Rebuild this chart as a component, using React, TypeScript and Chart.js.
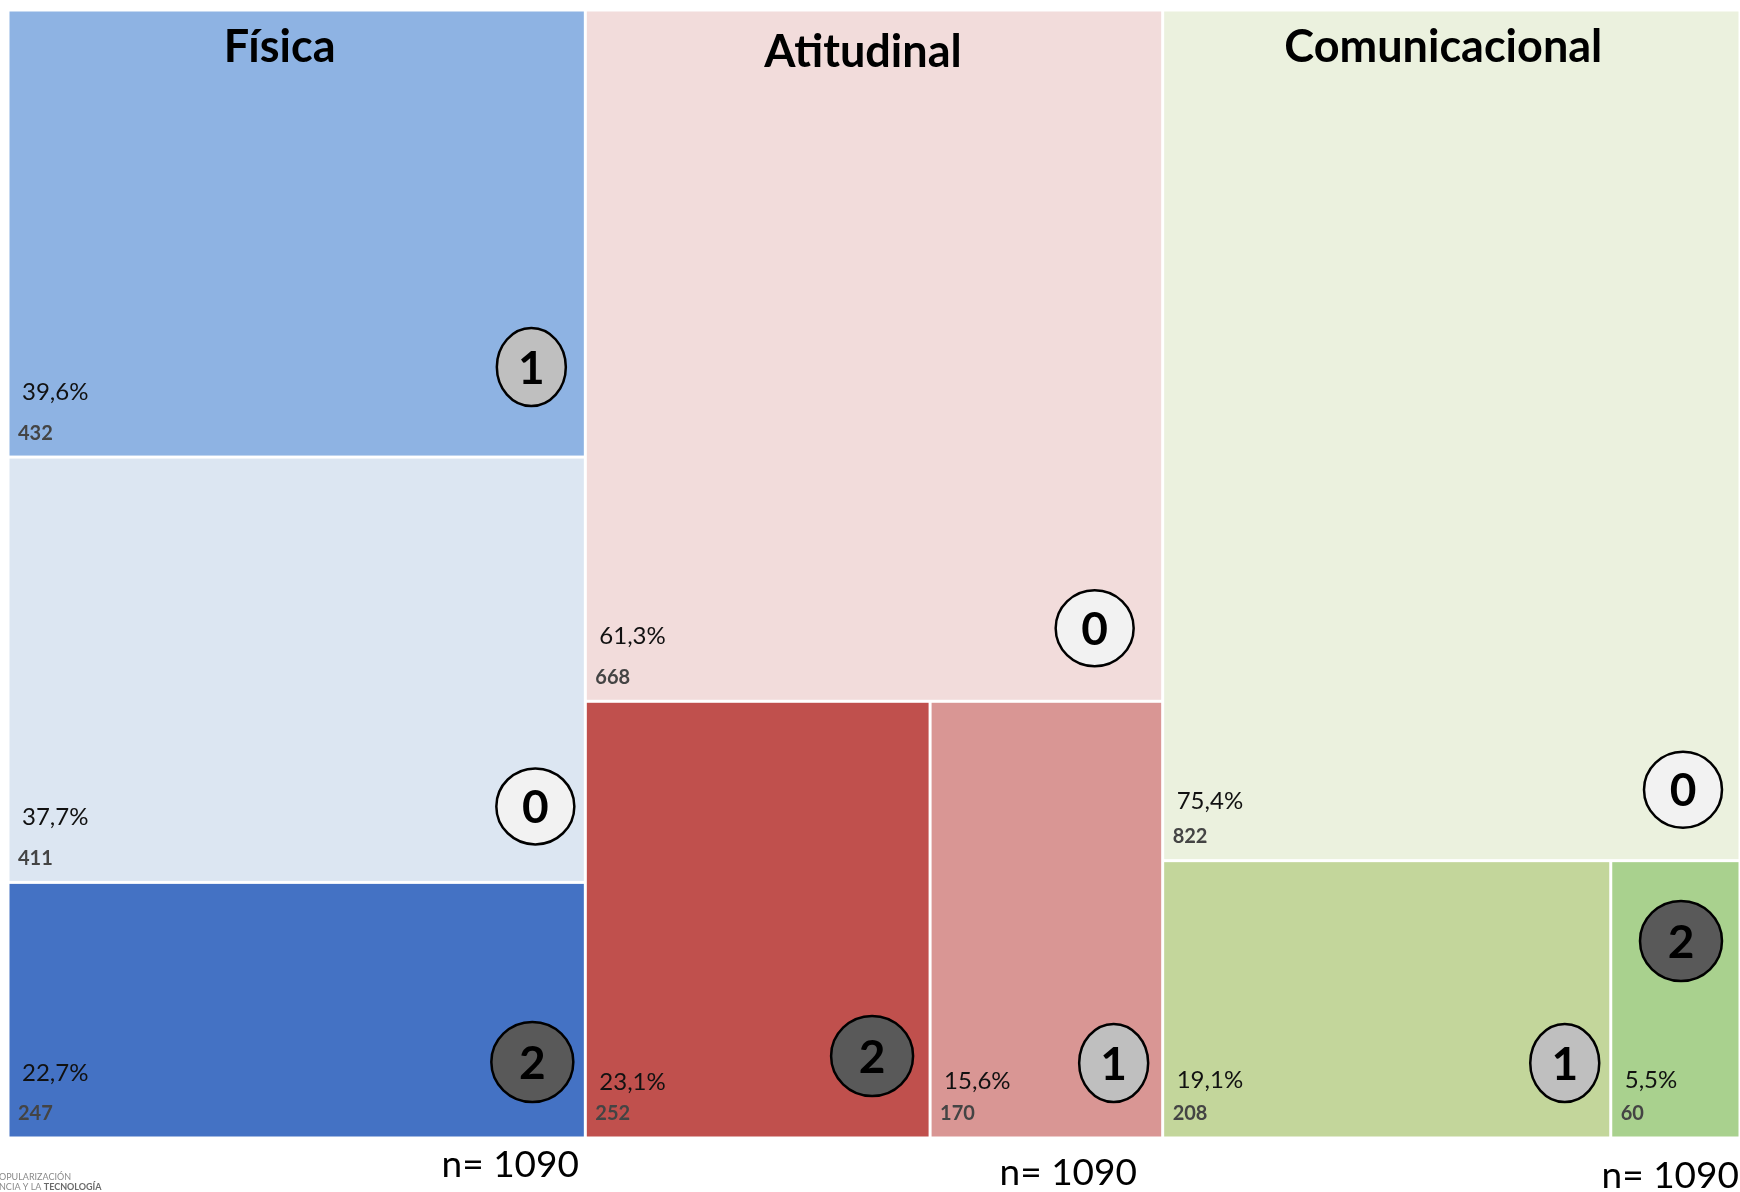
import React, { useEffect, useRef } from "react";
import { Chart, registerables } from "chart.js";

Chart.register(...registerables);

// ---------- data ----------
const groupNames = ["Física", "Atitudinal", "Comunicacional"];

const fisicaValues = [432, 411, 247];
const fisicaLevels = ["1", "0", "2"];
const fisicaRowSizes = [1, 1, 1];

const atitudinalValues = [668, 252, 170];
const atitudinalLevels = ["0", "2", "1"];
const atitudinalRowSizes = [1, 2];

const comunicacionalValues = [822, 208, 60];
const comunicacionalLevels = ["0", "1", "2"];
const comunicacionalRowSizes = [1, 2];

const sampleLabel = "n= 1090";
const logoLines = ["OPULARIZACIÓN", "NCIA Y LA "];
const logoBold = "TECNOLOGÍA";

// ---------- styles ----------
const fisicaColors = ["#8EB3E3", "#DCE6F2", "#4472C4"];
const atitudinalColors = ["#F2DCDB", "#C0504D", "#D99694"];
const comunicacionalColors = ["#EBF1DE", "#C3D69B", "#A9D18E"];
const badgeFill: Record<string, string> = { "0": "#F2F2F2", "1": "#BFBFBF", "2": "#595959" };
const badgeSize: Record<string, [number, number]> = { "0": [39, 38], "1": [34.5, 39], "2": [41, 40] };
// badge centre offset (px) from each cell's bottom-right corner
const fisicaBadgeOffsets = [[-54, -90], [-50, -76], [-53, -76]];
const atitudinalBadgeOffsets = [[-68, -73], [-58, -82], [-49, -75]];
const comunicacionalBadgeOffsets = [[-57, -71], [-46, -75], [-59, -197]];
// percent label vertical offset (px) above each cell's bottom
const fisicaPctOffsets = [-65, -65, -65];
const atitudinalPctOffsets = [-65, -56, -57];
const comunicacionalPctOffsets = [-59, -58, -58];
const titleOffsets = [[-17, 52], [-11, 57], [-8, 52]];
const nLabelPos = [[579, 1177], [1137, 1185], [1739, 1188]];

const groups = [
  { values: fisicaValues, levels: fisicaLevels, rows: fisicaRowSizes, colors: fisicaColors, badges: fisicaBadgeOffsets, pct: fisicaPctOffsets },
  { values: atitudinalValues, levels: atitudinalLevels, rows: atitudinalRowSizes, colors: atitudinalColors, badges: atitudinalBadgeOffsets, pct: atitudinalPctOffsets },
  { values: comunicacionalValues, levels: comunicacionalLevels, rows: comunicacionalRowSizes, colors: comunicacionalColors, badges: comunicacionalBadgeOffsets, pct: comunicacionalPctOffsets },
];

type Cell = { x0: number; x1: number; y0: number; y1: number; value: number; total: number; level: string; color: string; badge: number[]; pct: number };

function layout(): Cell[][] {
  return groups.map((g, gi) => {
    const total = g.values.reduce((a, b) => a + b, 0);
    const cells: Cell[] = [];
    let idx = 0;
    let y = 0;
    for (const n of g.rows) {
      const row = g.values.slice(idx, idx + n);
      const rowSum = row.reduce((a, b) => a + b, 0);
      const h = rowSum / total;
      let x = gi;
      row.forEach((v, k) => {
        const w = v / rowSum;
        cells.push({
          x0: x, x1: x + w, y0: y, y1: y + h, value: v, total,
          level: g.levels[idx + k], color: g.colors[idx + k], badge: g.badges[idx + k], pct: g.pct[idx + k],
        });
        x += w;
      });
      y += h;
      idx += n;
    }
    return cells;
  });
}

const fmtPct = (v: number, t: number) => ((v / t) * 100).toFixed(1).replace(".", ",") + "%";

const treemapPlugin = {
  id: "treemapCells",
  afterDatasetsDraw(chart: any) {
    const ctx: CanvasRenderingContext2D = chart.ctx;
    const xs = chart.scales.x;
    const ys = chart.scales.y;
    const all = layout();
    ctx.save();
    all.forEach((cells, gi) => {
      cells.forEach((c) => {
        const px0 = xs.getPixelForValue(c.x0);
        const px1 = xs.getPixelForValue(c.x1);
        const py0 = ys.getPixelForValue(c.y0);
        const py1 = ys.getPixelForValue(c.y1);
        const inset = 1.5;
        ctx.fillStyle = c.color;
        ctx.fillRect(px0 + inset, py0 + inset, px1 - px0 - inset * 2, py1 - py0 - inset * 2);

        // labels
        ctx.textAlign = "left";
        ctx.textBaseline = "middle";
        ctx.fillStyle = "#111";
        ctx.font = "24px Lato";
        ctx.fillText(fmtPct(c.value, c.total), px0 + 14, py1 + c.pct);
        ctx.fillStyle = "#444";
        ctx.font = "bold 20px Lato";
        ctx.fillText(String(c.value), px0 + 10, py1 - 24);

        // badge
        const [rx, ry] = badgeSize[c.level];
        const cx = px1 + c.badge[0];
        const cy = py1 + c.badge[1];
        ctx.beginPath();
        ctx.ellipse(cx, cy, rx, ry, 0, 0, Math.PI * 2);
        ctx.fillStyle = badgeFill[c.level];
        ctx.fill();
        ctx.lineWidth = 2.5;
        ctx.strokeStyle = "#000";
        ctx.stroke();
        ctx.fillStyle = "#000";
        ctx.font = "bold 46px Lato";
        ctx.textAlign = "center";
        ctx.textBaseline = "middle";
        ctx.fillText(c.level, cx, cy + 2);
      });

      // group title
      const cx = (xs.getPixelForValue(gi) + xs.getPixelForValue(gi + 1)) / 2;
      ctx.fillStyle = "#000";
      ctx.font = "bold 45px Lato";
      ctx.textAlign = "center";
      ctx.textBaseline = "alphabetic";
      ctx.fillText(groupNames[gi], cx + titleOffsets[gi][0], chart.chartArea.top + titleOffsets[gi][1]);

      // n label
      ctx.font = "37px Lato";
      ctx.textAlign = "right";
      ctx.fillText(sampleLabel, nLabelPos[gi][0], nLabelPos[gi][1]);
    });

    // logo text (cut off at the left edge)
    ctx.textAlign = "left";
    ctx.textBaseline = "alphabetic";
    ctx.font = "9px Lato";
    ctx.fillStyle = "#8a8a8a";
    ctx.fillText(logoLines[0], -1, 1180);
    ctx.fillText(logoLines[1], -1, 1190);
    const w = ctx.measureText(logoLines[1]).width;
    ctx.font = "bold 9px Lato";
    ctx.fillStyle = "#6a6a6a";
    ctx.fillText(logoBold, -1 + w, 1190);
    ctx.restore();
  },
};

export default function App() {
  const ref = useRef<HTMLCanvasElement>(null);
  useEffect(() => {
    if (!ref.current) return;
    const centers = layout().map((cells, gi) => ({
      label: groupNames[gi],
      data: cells.map((c) => ({ x: (c.x0 + c.x1) / 2, y: (c.y0 + c.y1) / 2 })),
      pointRadius: 0,
      pointHoverRadius: 0,
    }));
    const chart = new Chart(ref.current, {
      type: "scatter",
      data: { datasets: centers },
      options: {
        animation: false,
        responsive: false,
        devicePixelRatio: 1,
        layout: { padding: { left: 8, top: 10, right: 0, bottom: 54 } },
        scales: {
          x: { type: "linear", min: 0, max: 3, display: false },
          y: { type: "linear", min: 0, max: 1, reverse: true, display: false },
        },
        plugins: { legend: { display: false }, tooltip: { enabled: false }, title: { display: false } },
      },
      plugins: [treemapPlugin],
    });
    return () => chart.destroy();
  }, []);
  return (
    <div style={{ position: "absolute", left: 0, top: 0, width: 1740, height: 1192, background: "#fff" }}>
      <canvas ref={ref} width={1740} height={1192} style={{ width: 1740, height: 1192, display: "block" }} />
    </div>
  );
}
